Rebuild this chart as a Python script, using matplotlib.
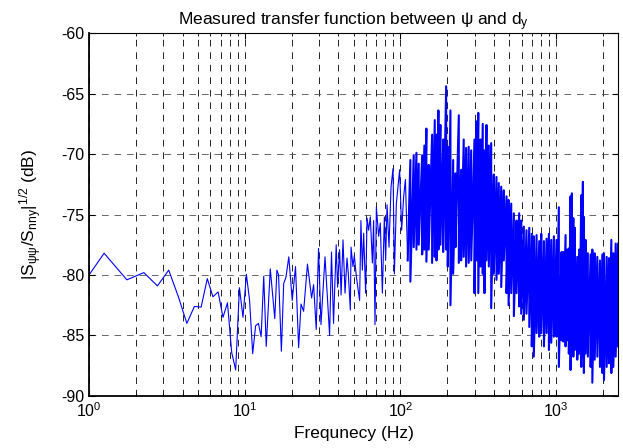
import numpy as np
import matplotlib
matplotlib.use("Agg")
import matplotlib.pyplot as plt
from matplotlib.ticker import LogLocator

plt.rcParams['font.family'] = ['Liberation Sans', 'DejaVu Sans']
plt.rcParams['mathtext.fontset'] = 'custom'
plt.rcParams['mathtext.rm'] = 'Liberation Sans'
plt.rcParams['mathtext.it'] = 'Liberation Sans:italic'
plt.rcParams['axes.unicode_minus'] = False

# low frequency part: single spectral lines (Hz, dB)
freq_lf = [1.0, 1.25, 1.75, 2.25, 2.75, 3.25, 3.75, 4.25, 4.75, 5.25, 5.75, 6.25,
           6.75, 7.25, 7.75, 8.25, 8.75, 9.25, 9.75, 10.25, 10.75, 11.25, 11.75,
           12.25, 12.75, 13.25, 13.75, 14.6, 15.6, 16.1, 16.5, 17.2, 17.8, 18.4,
           19.2, 20.2, 21.2, 22.2, 23.0, 23.9, 25.3, 26.9, 27.7, 28.8, 29.8, 30.9,
           32.8, 34.1, 35.1, 36.1, 37.2, 38.7, 39.5, 40.7, 41.6, 42.8, 44.1, 45.4,
           46.3, 47.7, 48.2, 49.6, 50.6, 52.1, 54.7, 55.8, 57.0, 58.1, 59.8, 61.1,
           62.5, 64.1, 66.1, 67.3, 68.7, 70.1, 72.5, 74.3, 76.6, 78.9, 80.4, 82.1,
           84.5, 87.1, 89.7, 91.5, 94.2, 98.9, 101.9, 105.0, 107.7, 111.4]
db_lf = [-80.0, -78.2, -80.4, -79.8, -80.9, -79.6, -81.8, -84.0, -82.6, -82.65, -80.3,
         -81.8, -81.4, -83.5, -82.3, -86.4, -87.85, -81.05, -83.5, -79.95, -82.1,
         -86.5, -84.2, -84.0, -85.1, -80.1, -85.9, -79.5, -83.6, -79.6, -80.0, -86.3,
         -80.7, -80.2, -78.5, -82.1, -79.3, -86.0, -82.4, -83.0, -79.1, -81.9, -80.8,
         -84.5, -77.8, -84.1, -78.5, -82.2, -85.0, -78.1, -84.0, -77.5, -81.0, -77.9,
         -81.65, -77.1, -81.5, -78.6, -79.9, -82.9, -77.7, -79.3, -78.4, -80.1, -82.1,
         -75.5, -79.6, -76.55, -81.5, -75.3, -76.3, -75.2, -79.0, -75.5, -84.1, -74.4,
         -76.8, -75.7, -81.5, -75.2, -78.8, -74.2, -77.7, -72.7, -71.2, -79.9, -74.1,
         -71.3, -76.3, -73.5, -72.1, -78.8]

# high frequency part: dense spectrum, upper and lower excursions per band
band_freq = [115.9, 121.8, 126.8, 131.2, 138.0, 142.6, 146.9, 152.0, 159.9, 166.3,
             170.6, 175.5, 180.7, 188.2, 196.8, 201.5, 209.7, 218.3, 225.9, 237.3,
             245.6, 255.2, 264.3, 274.7, 285.0, 299.2, 308.0, 316.5, 326.7, 338.1,
             346.7, 357.3, 369.8, 383.1, 398.1, 414.3, 428.7, 444.4, 461.6, 480.6,
             495.5, 515.2, 535.8, 557.2, 579.4, 597.0, 620.9, 645.7, 672.9, 698.2,
             719.5, 749.9, 779.8, 803.5, 835.6, 868.9, 899.5, 931.1, 968.3, 1007,
             1042, 1084, 1112, 1151, 1180, 1208, 1239, 1264, 1291, 1321, 1368, 1410,
             1452, 1487, 1509, 1548, 1600, 1667, 1710, 1770, 1841, 1914, 1983, 2032,
             2114, 2188, 2265, 2333, 2415, 2500]
band_hi = [-70.5, -70.1, -69.9, -70.8, -70.1, -69.3, -67.9, -70.9, -68.4, -67.2,
           -68.4, -66.4, -67.6, -68.8, -64.4, -69.4, -66.4, -70.5, -71.6, -66.8,
           -71.3, -68.8, -69.5, -69.4, -69.7, -68.8, -67.3, -66.6, -68.8, -67.5,
           -69.7, -67.6, -69.3, -69.1, -71.7, -71.9, -72.4, -72.7, -73.0, -73.5,
           -73.8, -74.1, -74.9, -75.5, -74.9, -75.5, -76.0, -76.3, -76.1, -76.6,
           -76.8, -76.7, -77.2, -76.6, -77.2, -77.0, -76.6, -77.1, -76.8, -77.1,
           -74.4, -78.1, -78.1, -76.7, -77.9, -77.8, -73.5, -73.25, -75.3, -76.1,
           -78.5, -77.9, -73.4, -72.3, -75.2, -77.1, -78.2, -78.3, -77.9, -78.2,
           -78.5, -78.8, -78.3, -78.2, -78.5, -78.6, -77.1, -78.2, -77.4, -77.4]
band_lo = [-80.55, -77.7, -77.9, -77.5, -78.3, -77.9, -78.9, -77.9, -79.0, -78.5,
           -78.8, -77.9, -77.5, -78.1, -77.9, -79.3, -82.5, -79.9, -77.7, -79.0,
           -78.8, -78.5, -79.3, -79.0, -78.8, -81.5, -78.8, -81.5, -79.3, -79.9,
           -81.5, -78.8, -79.3, -82.75, -79.9, -80.4, -79.9, -81.0, -78.8, -81.5,
           -82.5, -81.5, -83.4, -81.5, -82.6, -83.2, -83.7, -83.2, -84.3, -85.9,
           -86.75, -84.8, -85.1, -84.8, -85.9, -84.8, -86.2, -85.6, -85.1, -85.1,
           -87.6, -85.4, -85.5, -85.9, -85.4, -86.5, -87.85, -85.9, -86.75, -86.2,
           -87.0, -86.5, -87.6, -86.75, -88.1, -86.5, -86.75, -87.6, -88.9, -87.0,
           -86.75, -87.6, -88.1, -88.7, -87.6, -87.3, -88.1, -87.6, -86.75, -85.9]

yticks = [-90, -85, -80, -75, -70, -65, -60]

# dense part as one zigzag trace, starting where the sparse part ends
band_f = np.concatenate([[freq_lf[-1]], np.repeat(band_freq, 2)])
band_db = np.concatenate([[db_lf[-1]], np.column_stack([band_hi, band_lo]).ravel()])

fig = plt.figure(figsize=(6.23, 4.48), dpi=100)
ax = fig.add_axes([0.1429, 0.1161, 0.8491, 0.8102])

ax.semilogx(freq_lf, db_lf, color='#0000ff', linewidth=0.8)
ax.semilogx(band_f, band_db, color='#0000ff', linewidth=1.5)

ax.set_xlim(1, 2500)
ax.set_ylim(-90, -60)
ax.set_yticks(yticks)
ax.xaxis.set_major_locator(LogLocator(base=10))
ax.xaxis.set_minor_locator(LogLocator(base=10, subs=np.arange(2, 10)))

ax.grid(which='both', axis='x', color='k', linestyle=(0, (8, 7)), linewidth=0.6)
ax.grid(which='major', axis='y', color='0.3', linestyle=(0, (8, 7)), linewidth=0.6)

ax.tick_params(which='both', direction='in', top=True, right=True, labelsize=11.5,
               colors='k')
ax.tick_params(which='major', length=4)
ax.tick_params(which='minor', length=2.5)
for side in ['left', 'bottom']:
    ax.spines[side].set_linewidth(1.3)
for side in ['top', 'right']:
    ax.spines[side].set_linewidth(0.8)

ax.set_title(r'Measured transfer function between ψ and $\mathregular{d_y}$',
             fontsize=12.5, pad=5)
ax.set_xlabel('Frequnecy (Hz)', fontsize=12.5, labelpad=5)
ax.set_ylabel(r'$\mathregular{|S_{ψψ}/S_{nny}|^{1/2}}$ (dB)', fontsize=12.5, labelpad=12)

fig.savefig('out.png', dpi=100)
